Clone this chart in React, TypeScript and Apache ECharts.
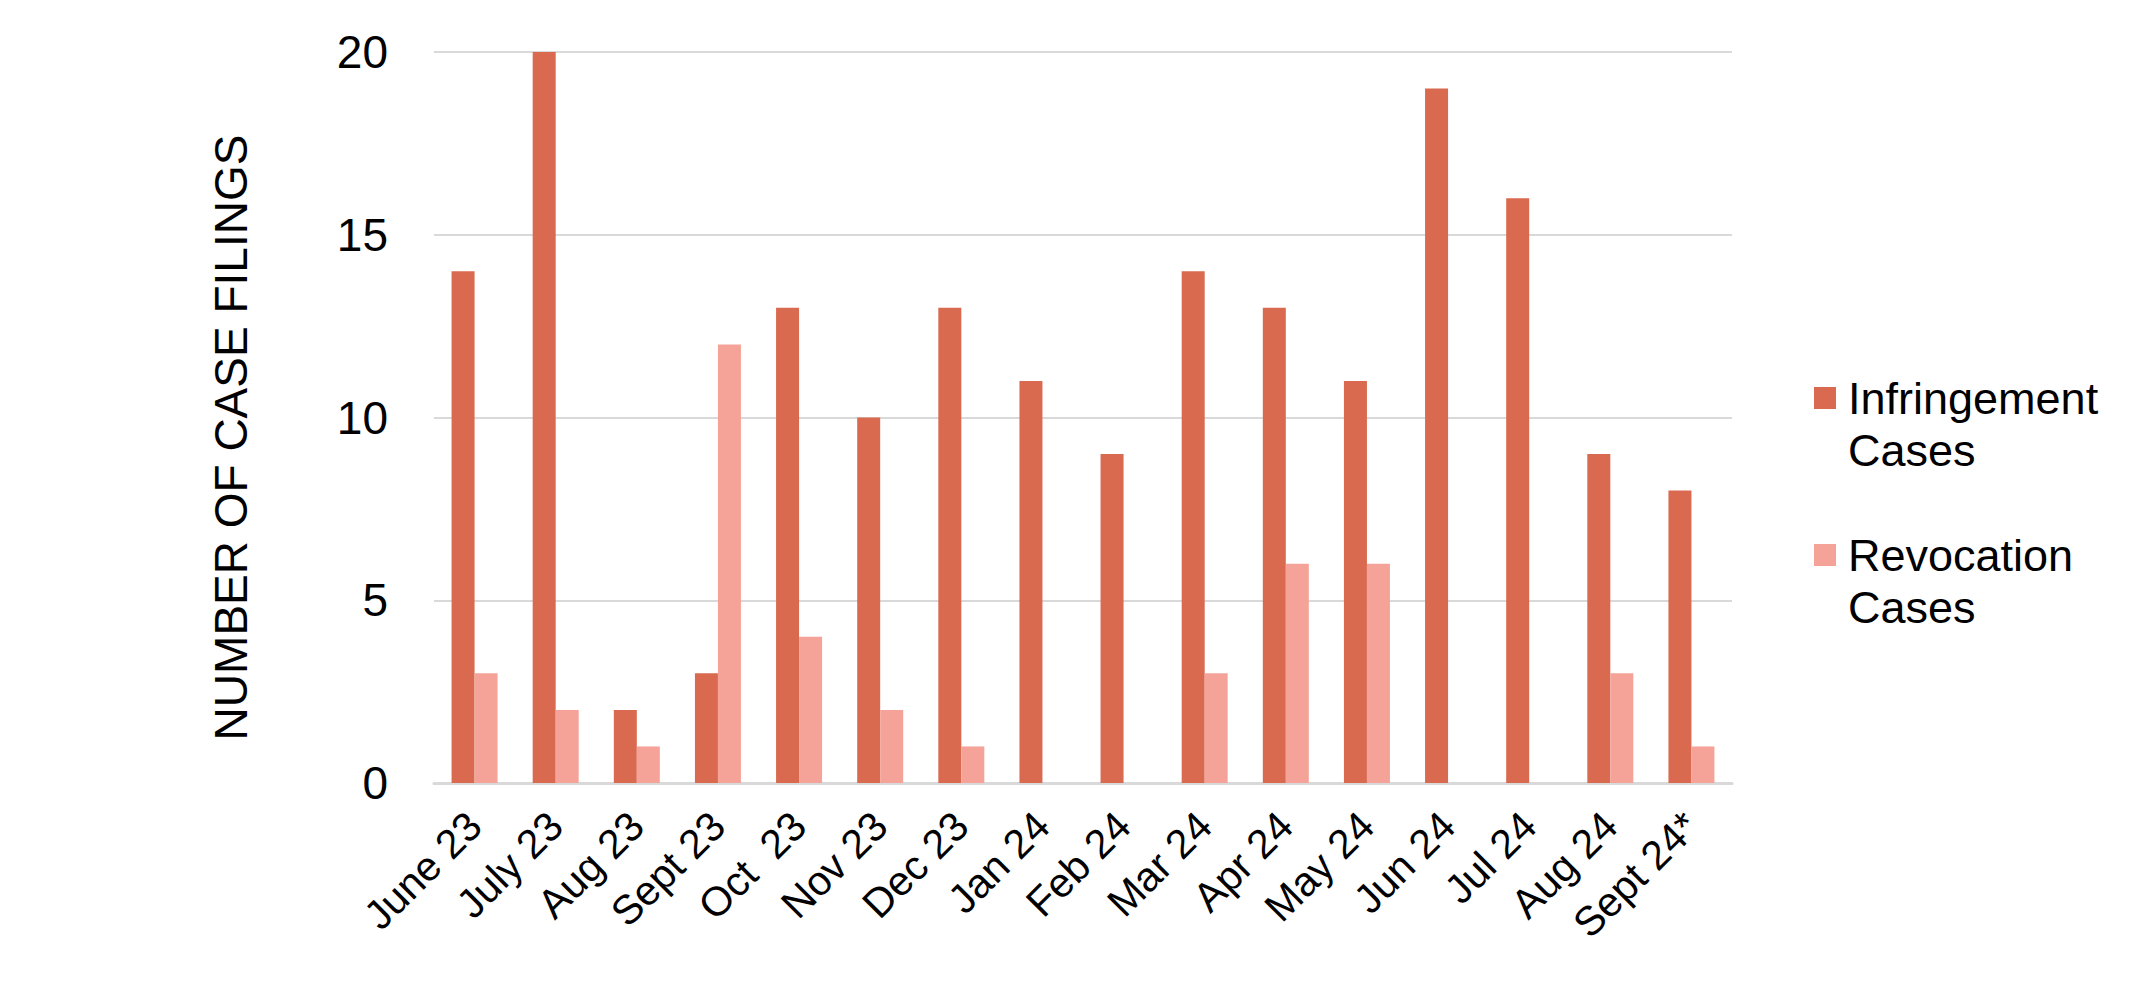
import React, { useEffect, useRef } from "react";
import * as echarts from "echarts";

const categories = [
  "June 23", "July 23", "Aug 23", "Sept 23", "Oct  23", "Nov 23", "Dec 23", "Jan 24",
  "Feb 24", "Mar 24", "Apr 24", "May 24", "Jun 24", "Jul 24", "Aug 24", "Sept 24*",
];
const infringementCases = [14, 20, 2, 3, 13, 10, 13, 11, 9, 14, 13, 11, 19, 16, 9, 8];
const revocationCases = [3, 2, 1, 12, 4, 2, 1, 0, 0, 3, 6, 6, 0, 0, 3, 1];
const seriesNames = ["Infringement Cases", "Revocation Cases"];
const yTitle = "NUMBER OF CASE FILINGS";

const FONT = "'Liberation Sans', Arial, Helvetica, sans-serif";

export default function App() {
  const ref = useRef<HTMLDivElement>(null);
  useEffect(() => {
    if (!ref.current) return;
    const chart = echarts.init(ref.current, undefined, { renderer: "svg" });
    chart.setOption({
      animation: false,
      backgroundColor: "#ffffff",
      textStyle: { fontFamily: FONT },
      grid: { left: 434, right: 413, top: 52, bottom: 222, containLabel: false },
      legend: {
        orient: "vertical",
        left: 1814,
        top: 320,
        padding: 0,
        itemWidth: 22,
        itemHeight: 22,
        itemGap: 1,
        icon: "rect",
        data: seriesNames,
        formatter: (name: string) => " \n" + name.replace(" ", "\n"),
        textStyle: {
          fontFamily: FONT,
          fontSize: 45,
          lineHeight: 52,
          color: "#000000",
          padding: [0, 0, 0, 7],
        },
      },
      xAxis: {
        type: "category",
        data: categories,
        axisLine: { show: true, lineStyle: { color: "#d9d9d9", width: 3 } },
        axisTick: { show: false },
        axisLabel: {
          interval: 0,
          rotate: 45,
          margin: 36,
          fontFamily: FONT,
          fontSize: 41,
          color: "#000000",
        },
      },
      yAxis: {
        type: "value",
        min: 0,
        max: 20,
        interval: 5,
        name: yTitle,
        nameLocation: "middle",
        nameRotate: 90,
        nameGap: 180,
        nameTextStyle: {
          fontFamily: FONT,
          fontSize: 46,
          color: "#000000",
          padding: [0, 40, 0, 0],
        },
        axisLine: { show: false },
        axisTick: { show: false },
        axisLabel: { margin: 46, fontFamily: FONT, fontSize: 46, color: "#000000" },
        splitLine: { lineStyle: { color: "#d9d9d9", width: 2 } },
      },
      series: [
        {
          name: seriesNames[0],
          type: "bar",
          data: infringementCases,
          barWidth: 23,
          barGap: "0%",
          itemStyle: { color: "#D9694F" },
        },
        {
          name: seriesNames[1],
          type: "bar",
          data: revocationCases,
          barWidth: 23,
          barGap: "0%",
          itemStyle: { color: "#F5A398" },
        },
      ],
    });
    return () => chart.dispose();
  }, []);
  return (
    <div
      ref={ref}
      style={{ position: "fixed", left: 0, top: 0, width: 2145, height: 1005, background: "#fff" }}
    />
  );
}
